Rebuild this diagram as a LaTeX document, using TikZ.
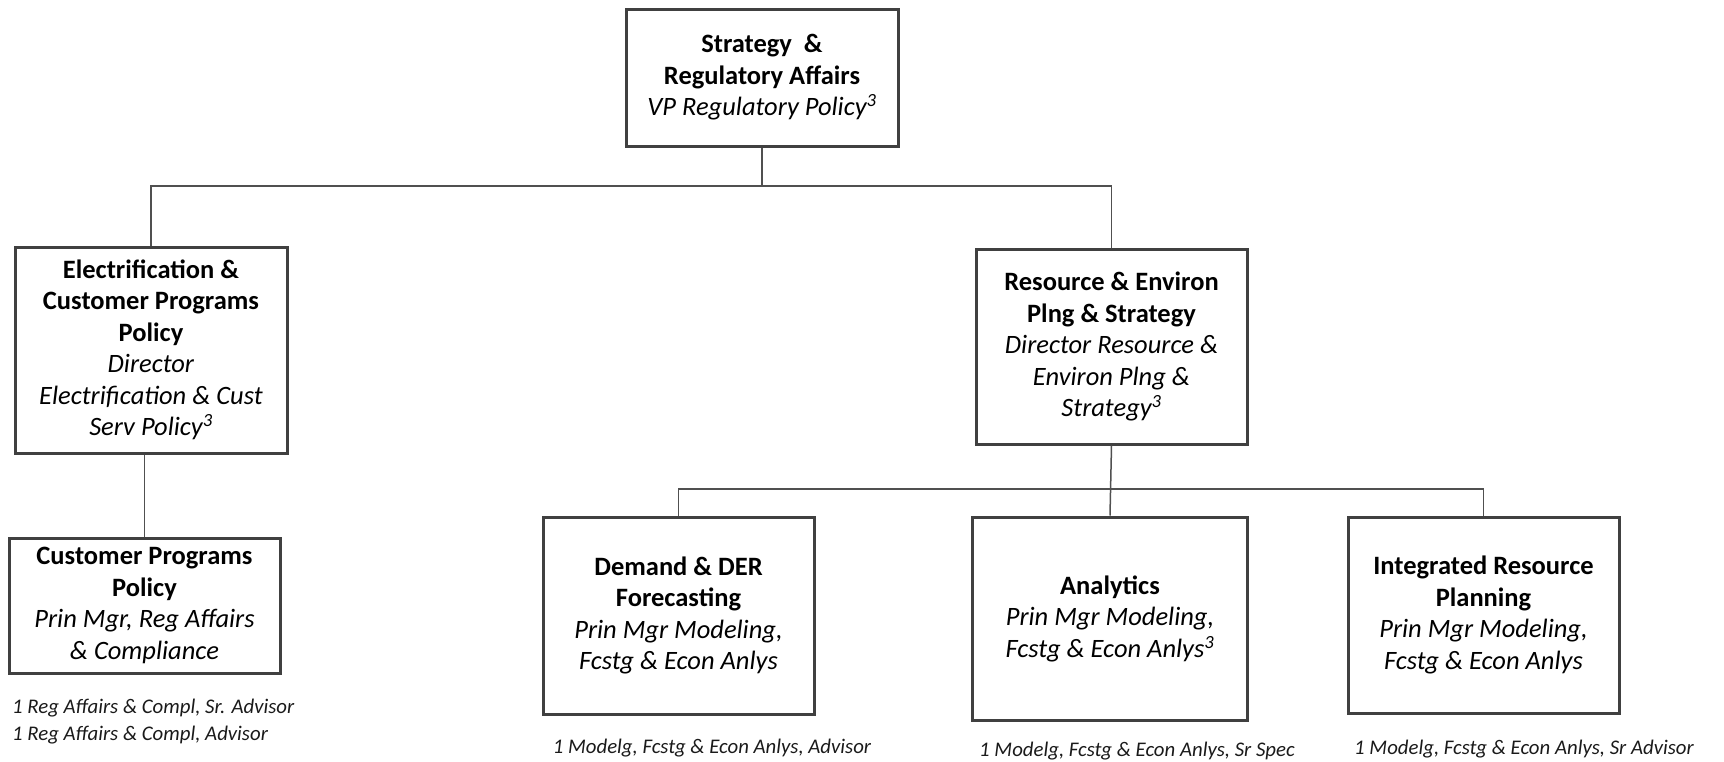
\documentclass[tikz,border=0pt]{standalone}
\usepackage{fontspec}
\setmainfont{Carlito}
\definecolor{boxgray}{HTML}{404040}
\definecolor{linegray}{HTML}{505050}
\definecolor{textgray}{HTML}{1A1A1A}
\begin{document}
\begin{tikzpicture}[x=1pt,y=-1pt,
  unit/.style={draw=boxgray, line width=3pt, fill=white, align=center,
    inner sep=0pt, text=black, font=\fontsize{26.5}{31.5}\selectfont},
  staff/.style={inner sep=0pt, text=textgray,
    font=\fontsize{20.8}{27}\selectfont\itshape},
  link/.style={draw=linegray, line width=1.5pt}]
\useasboundingbox (0,0) rectangle (1724,761);

% Units
\node[unit, minimum width=272pt, minimum height=137pt] (top) at (762,77.5)
  {\textbf{Strategy\ \ \&}\\\textbf{Regulatory Affairs}\\\textit{VP Regulatory Policy\textsuperscript{3}}};
\node[unit, minimum width=272pt, minimum height=206pt] (elec) at (151,350)
  {\textbf{Electrification \&}\\\textbf{Customer Programs}\\\textbf{Policy}\\\textit{Director}\\\textit{Electrification \& Cust}\\\textit{Serv Policy\textsuperscript{3}}};
\node[unit, minimum width=271pt, minimum height=135pt] (cust) at (144.5,605.5)
  {\textbf{Customer Programs}\\\textbf{Policy}\\\textit{Prin Mgr, Reg Affairs}\\\textit{\& Compliance}};
\node[unit, minimum width=271pt, minimum height=195pt] (res) at (1111.5,346.5)
  {\textbf{Resource \& Environ}\\\textbf{Plng \& Strategy}\\\textit{Director Resource \&}\\\textit{Environ Plng \&}\\\textit{Strategy\textsuperscript{3}}};
\node[unit, minimum width=271pt, minimum height=197pt] (dem) at (678.5,615.5)
  {\textbf{Demand \& DER}\\\textbf{Forecasting}\\\textit{Prin Mgr Modeling,}\\\textit{Fcstg \& Econ Anlys}};
\node[unit, minimum width=275pt, minimum height=203pt] (ana) at (1110,618.5)
  {\textbf{Analytics}\\\textit{Prin Mgr Modeling,}\\\textit{Fcstg \& Econ Anlys\textsuperscript{3}}};
\node[unit, minimum width=271pt, minimum height=196pt] (irp) at (1483.5,615)
  {\textbf{Integrated Resource}\\\textbf{Planning}\\\textit{Prin Mgr Modeling,}\\\textit{Fcstg \& Econ Anlys}};

% Staff lines under units
\node[staff, anchor=west, align=left] (custstaff) at (12,721.5)
  {1 Reg Affairs \& Compl, Sr. Advisor\\1 Reg Affairs \& Compl, Advisor};
\node[staff] (demstaff) at (712,748) {1 Modelg, Fcstg \& Econ Anlys, Advisor};
\node[staff] (anastaff) at (1137,751) {1 Modelg, Fcstg \& Econ Anlys, Sr Spec};
\node[staff] (irpstaff) at (1524,749) {1 Modelg, Fcstg \& Econ Anlys, Sr Advisor};

% Reporting lines
\coordinate (busA) at (0,186);
\coordinate (busB) at (0,489);
\draw[link] (top.south) -- (top.south |- busA);
\draw[link] (elec.north) |- (res.north |- busA) -- (res.north);
\draw[link] (elec.south -| cust.north) -- (cust.north);
\draw[link] (dem.north) |- (irp.north |- busB) -- (irp.north);
\draw[link] (res.south) -- (ana.north);
\end{tikzpicture}
\end{document}
